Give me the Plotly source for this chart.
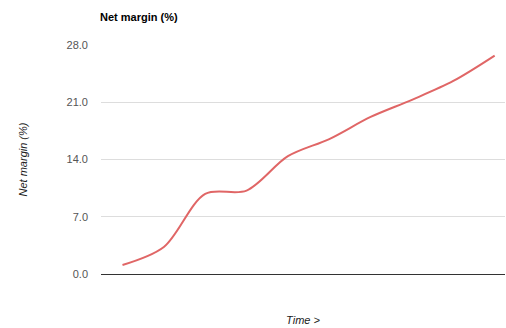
import plotly.graph_objects as go

# Net margin over time (percent), one value per period
periods = list(range(10))
net_margin = [1.1, 3.3, 9.8, 10.2, 14.4, 16.5, 19.2, 21.3, 23.6, 26.7]

y_ticks = [0.0, 7.0, 14.0, 21.0, 28.0]
y_tick_labels = ["0.0", "7.0", "14.0", "21.0", "28.0"]

fig = go.Figure()
fig.add_trace(go.Scatter(
    x=periods,
    y=net_margin,
    mode="lines",
    line=dict(color="#e06666", width=2, shape="spline", smoothing=0.9),
    hoverinfo="y",
))

fig.update_layout(
    width=506,
    height=328,
    margin=dict(l=101, r=1, t=45, b=54),
    paper_bgcolor="white",
    plot_bgcolor="white",
    showlegend=False,
    font=dict(family="Arial, Liberation Sans, sans-serif", size=11, color="#444"),
    title=dict(
        text="<b>Net margin (%)</b>",
        x=100 / 506,
        xanchor="left",
        y=1 - 17 / 328,
        yanchor="middle",
        font=dict(size=11, color="#000"),
    ),
    xaxis=dict(
        range=[-0.52, 9.25],
        showticklabels=False,
        showgrid=False,
        zeroline=False,
        showline=False,
        ticks="",
        title=dict(text="<i>Time ></i>", font=dict(size=11, color="#222"), standoff=42),
    ),
    yaxis=dict(
        range=[0, 28],
        tickvals=y_ticks,
        ticktext=y_tick_labels,
        showgrid=True,
        gridcolor="#dddddd",
        gridwidth=1,
        zeroline=True,
        zerolinecolor="#333333",
        zerolinewidth=1,
        showline=False,
        ticks="",
        ticklabelstandoff=12,
        tickfont=dict(size=11, color="#555"),
        title=dict(text="<i>Net margin (%)</i>", font=dict(size=11, color="#222"), standoff=36),
    ),
)

fig.write_html("out.html")
